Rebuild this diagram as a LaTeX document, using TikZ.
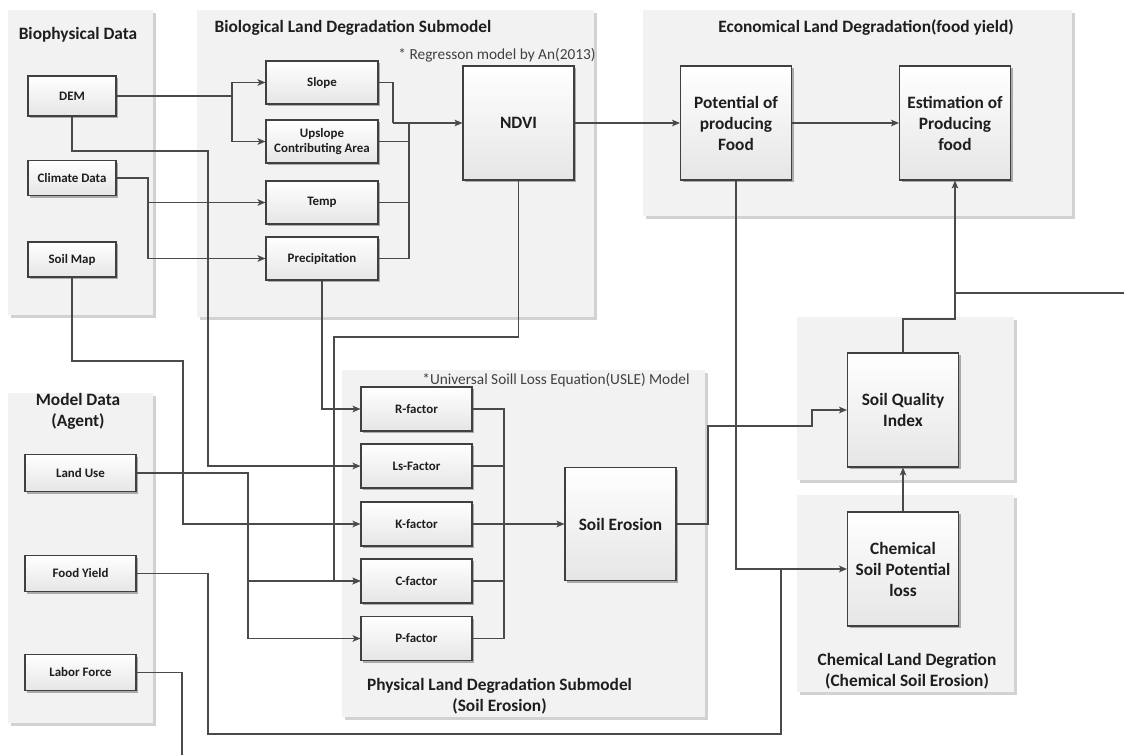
\documentclass[tikz,border=0pt]{standalone}
\usepackage{fontspec}
\setmainfont{Carlito}
\usetikzlibrary{arrows.meta,shadows}
\definecolor{lin}{HTML}{4A4A4A}
\definecolor{pan}{HTML}{F2F2F2}
\definecolor{pansh}{HTML}{D2D2D2}
\definecolor{bdr}{HTML}{404040}
\definecolor{txt}{HTML}{1E1E1E}
\newdimen\upx \upx=0.75pt
\begin{document}
\begin{tikzpicture}[x=0.75pt,y=-0.75pt,
 boxbase/.style={draw=bdr, line width=0.8pt, top color=white, bottom color=black!10, inner sep=1pt, align=center, text=txt,
   drop shadow={shadow xshift=1.8pt, shadow yshift=-1.8pt, fill=black!40, opacity=0.8}},
 sbox/.style={boxbase, font=\fontsize{9.7}{11.5}\selectfont\bfseries},
 lbox/.style={sbox, minimum width=88*\upx, minimum height=35*\upx},
 mbox/.style={sbox, minimum width=111*\upx, minimum height=36*\upx},
 gbox/.style={sbox, minimum width=112*\upx, minimum height=43*\upx},
 fbox/.style={sbox, minimum width=111*\upx, minimum height=44*\upx},
 bbox/.style={boxbase, font=\fontsize{13}{15.75}\selectfont\bfseries, minimum width=111*\upx, minimum height=114*\upx},
 ttl/.style={font=\fontsize{13}{15.75}\selectfont\bfseries, text=txt, align=center, inner sep=0},
 note/.style={font=\fontsize{11.5}{13}\selectfont, text=black!75, inner sep=0},
 conn/.style={draw=lin, line width=0.8pt},
 arr/.style={conn, -{Stealth[length=6pt,width=5pt,inset=1.5pt]}},
]
\useasboundingbox (0,0) rectangle (1124,755);
\fill[white] (0,0) rectangle (1124,755);

% panels
\foreach \a/\b/\c/\d in {8/10/153/315, 197/10/594/317, 643/10/1072/216, 8/393/153/723, 342/370/705/717, 797/317/1014/480, 797/495/1014/692}{
  \fill[pansh] (\a+3,\b+3) rectangle (\c+3,\d+3);
  \fill[pan] (\a,\b) rectangle (\c,\d);
}

% titles
\node[ttl] (t1) at (78,35) {Biophysical Data};
\node[ttl] (t2) at (353,28) {Biological Land Degradation Submodel};
\node[note] (n1) at (497,55) {* Regresson model by An(2013)};
\node[ttl] (t3) at (866,28) {Economical Land Degradation(food yield)};
\node[ttl] (t4) at (78,411) {Model Data\\(Agent)};
\node[note] (n2) at (556,380) {*Universal Soill Loss Equation(USLE) Model};
\node[ttl] (t5) at (499.5,696.5) {Physical Land Degradation Submodel\\(Soil Erosion)};
\node[ttl] (t6) at (907,671.5) {Chemical Land Degration\\(Chemical Soil Erosion)};

% boxes
\node[lbox, minimum height=40*\upx] (dem) at (72,96) {DEM};
\node[lbox] (clim) at (72,178) {Climate Data};
\node[lbox] (soil) at (72,259.5) {Soil Map};
\node[mbox, minimum height=37*\upx] (land) at (80.5,473) {Land Use};
\node[mbox] (food) at (80.5,573.5) {Food Yield};
\node[mbox] (labor) at (80.5,672.5) {Labor Force};
\node[gbox] (slope) at (322,82.5) {Slope};
\node[gbox] (ups) at (322,141.5) {Upslope\\Contributing Area};
\node[gbox] (temp) at (322,202.5) {Temp};
\node[gbox] (prec) at (322,258.5) {Precipitation};
\node[fbox] (rf) at (416.5,409) {R-factor};
\node[fbox] (lsf) at (416.5,466) {Ls-Factor};
\node[fbox] (kf) at (416.5,524) {K-factor};
\node[fbox] (cf) at (416.5,581) {C-factor};
\node[fbox] (pf) at (416.5,638.5) {P-factor};
\node[bbox] (ndvi) at (518.5,123) {NDVI};
\node[bbox] (pot) at (736,123) {Potential of\\producing\\Food};
\node[bbox] (est) at (955,123) {Estimation of\\Producing\\food};
\node[bbox, minimum height=113*\upx] (ero) at (620.5,524) {Soil Erosion};
\node[bbox] (sqi) at (903,410) {Soil Quality\\Index};
\node[bbox] (chem) at (903,569) {Chemical\\Soil Potential\\loss};

% connectors
\coordinate (j1) at (232,96);
\draw[conn] (dem.east) -- (j1);
\draw[arr] (j1) |- (slope.west);
\draw[arr] (j1) |- (ups.west);
\draw[arr] (dem.south) |- (208,151) |- (lsf.west);
\coordinate (j2) at (148,202.5);
\draw[conn] (clim.east) -| (j2);
\draw[arr] (j2) -- (temp.west);
\draw[arr] (j2) |- (prec.west);
\draw[arr] (soil.south) |- (183,361) |- (kf.west);
\coordinate (j3) at (393,123);
\coordinate (j4) at (409,123);
\draw[conn] (slope.east) -| (j3);
\draw[arr] (j3) -- (ndvi.west);
\draw[conn] (ups.east) -| (j4);
\draw[conn] (temp.east) -| (j4);
\draw[conn] (prec.east) -| (j4);
\draw[arr] (ndvi) -- (pot);
\draw[arr] (pot) -- (est);
\draw[arr] (prec.south) |- (rf.west);
\draw[arr] (ndvi.south) |- (334,337) |- (cf.west);
\coordinate (j5) at (248,581);
\draw[arr] (land.east) -| (j5) |- (pf.west);
\draw[arr] (j5) -- (cf.west);
\draw[arr] (pot.south) |- (chem.west);
\draw[conn] (food.east) -| (208,734) -| (781,569);
\coordinate (lb) at (182,755);
\draw[conn] (labor.east) -| (lb);
\coordinate (j6) at (504,524);
\foreach \n in {rf,lsf,cf,pf} \draw[conn] (\n.east) -| (j6);
\draw[conn] (kf.east) -- (j6);
\draw[arr] (j6) -- (ero.west);
\draw[arr] (ero.east) -| (708,426) -| (812,410) -- (sqi.west);
\draw[arr] (chem.north) -- (sqi.south);
\draw[arr] (sqi.north) |- (955,319) -- (est.south);
\coordinate (rt) at (1124,293);
\draw[conn] (955,293) -- (rt);
\end{tikzpicture}
\end{document}
